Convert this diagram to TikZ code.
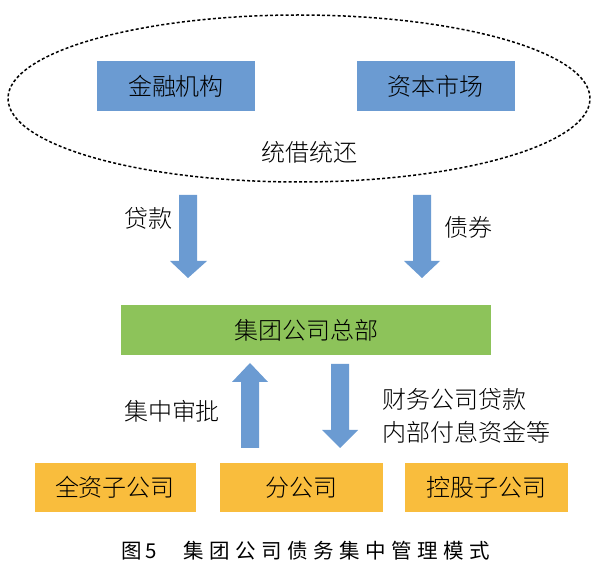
\documentclass[tikz,border=0pt]{standalone}
\usepackage{fontspec}
\usetikzlibrary{shapes.geometric}
\setmainfont{Noto Sans CJK SC}
\newfontfamily\cjk{Noto Sans CJK SC}[UprightFont={* Light}]
\newfontfamily\capfont{Noto Sans CJK SC}
\definecolor{boxblue}{HTML}{6B9BD2}
\definecolor{boxgreen}{HTML}{8DC35A}
\definecolor{boxyellow}{HTML}{F9BD3D}
\definecolor{arrowblue}{HTML}{6B9BD2}
\begin{document}
\begin{tikzpicture}[x=1pt,y=-1pt,
  bluebox/.style={fill=boxblue,minimum width=158pt,minimum height=50pt,inner sep=0pt,font=\fontsize{24}{26}\cjk},
  greenbox/.style={fill=boxgreen,minimum width=370pt,minimum height=50pt,inner sep=0pt,font=\fontsize{24}{26}\cjk},
  yellowbox/.style={fill=boxyellow,minimum width=161pt,minimum height=49pt,inner sep=0pt,font=\fontsize{24}{26}\cjk},
  lbl/.style={inner sep=0pt,font=\fontsize{24}{26}\cjk},
  blockdown/.style={fill=arrowblue},
]
\useasboundingbox (0,0) rectangle (598,577);
% ellipse
\node[draw=black,line width=1.5pt,dash pattern=on 3pt off 2.2pt,ellipse,minimum width=582pt,minimum height=167pt,inner sep=0pt] (pool) at (299,98.5) {};
\node[bluebox] (fin) at (176,86.5) {金融机构};
\node[bluebox] (cap) at (435.5,86.5) {资本市场};
\node[lbl] (tj) at (309,152) {统借统还};
% top arrows
\fill[blockdown] (179,195) -- (197,195) -- (197,261) -- (207,261) -- (188,278) -- (170,261) -- (179,261) -- cycle;
\fill[blockdown] (413,195) -- (431,195) -- (431,261) -- (440,261) -- (422,278) -- (404,261) -- (413,261) -- cycle;
\node[lbl] (dk) at (148,218) {贷款};
\node[lbl] (zq) at (468,227) {债券};
% HQ
\node[greenbox] (hq) at (306,330) {集团公司总部};
% lower arrows
\fill[blockdown] (241,448) -- (259,448) -- (259,382) -- (268,382) -- (250,363) -- (232,382) -- (241,382) -- cycle;
\fill[blockdown] (331,364) -- (349,364) -- (349,430) -- (358,430) -- (340,448) -- (322,430) -- (331,430) -- cycle;
\node[lbl] (jz) at (172,411) {集中审批};
\node[lbl,anchor=west] (cw1) at (382,399) {财务公司贷款};
\node[lbl,anchor=west] (cw2) at (382,432) {内部付息资金等};
% subsidiaries
\node[yellowbox] (qz) at (115,487.5) {全资子公司};
\node[yellowbox,minimum width=163pt] (fg) at (301.5,487.5) {分公司};
\node[yellowbox,minimum width=163pt] (kg) at (486.5,487.5) {控股子公司};
% caption
\node[inner sep=0pt,anchor=west,font=\fontsize{20.5}{22}\capfont] (cap5) at (121,551) {图\,5\hspace{1.3em}{\addfontfeature{LetterSpace=27}集团公司债务集中管理模式}};
\end{tikzpicture}
\end{document}
